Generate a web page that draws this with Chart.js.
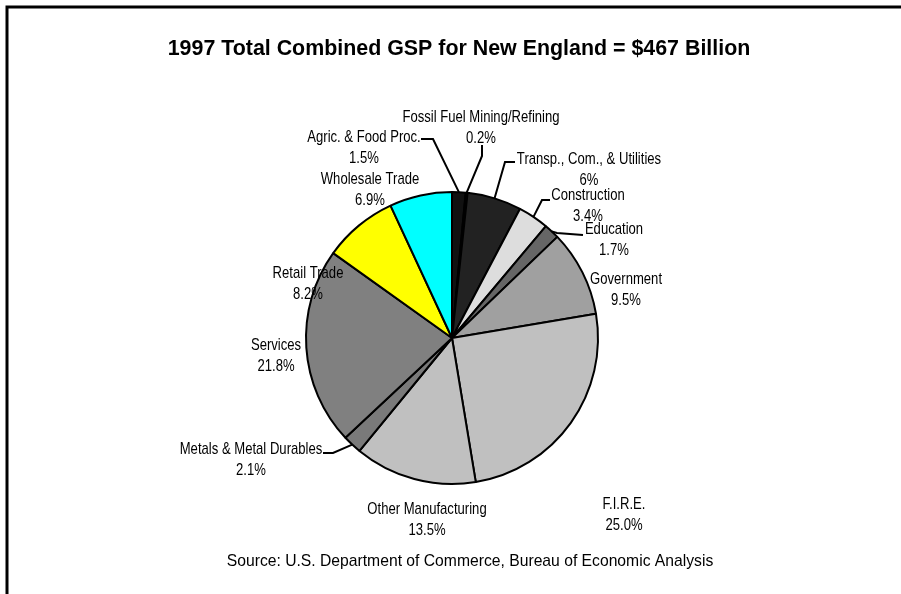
<!DOCTYPE html>
<html>
<head>
<meta charset="utf-8">
<script src="https://cdn.jsdelivr.net/npm/chart.js@4"></script>
<style>
html,body{margin:0;padding:0;background:#fff;}
#wrap{position:relative;width:901px;height:594px;}
</style>
</head>
<body>
<div id="wrap"><canvas id="c" width="901" height="594"></canvas></div>
<script>
const categories = [
  "Agric. & Food Proc.",
  "Fossil Fuel Mining/Refining",
  "Transp., Com., & Utilities",
  "Construction",
  "Education",
  "Government",
  "F.I.R.E.",
  "Other Manufacturing",
  "Metals & Metal Durables",
  "Services",
  "Retail Trade",
  "Wholesale Trade"
];
const shares = [1.5, 0.2, 6, 3.4, 1.7, 9.5, 25.0, 13.5, 2.1, 21.8, 8.2, 6.9];
const shareLabels = ["1.5%", "0.2%", "6%", "3.4%", "1.7%", "9.5%", "25.0%", "13.5%", "2.1%", "21.8%", "8.2%", "6.9%"];

const sliceColors = ["#111111", "#ffffff", "#222222", "#dddddd", "#666666", "#a0a0a0",
                     "#c0c0c0", "#c0c0c0", "#7a7a7a", "#808080", "#ffff00", "#00ffff"];

// label block centres, as offsets from pie centre (px); leader: start + elbow offsets, or null
const labelLayout = [
  {dx:-88, dy:-201, leader:{from:[-31,-199],elbow:[-19,-199]}},
  {dx: 29, dy:-221, leader:{from:[30,-193],elbow:[30,-182]}},
  {dx:137, dy:-179, leader:{from:[63,-176],elbow:[53,-176]}},
  {dx:136, dy:-143, leader:{from:[98,-138],elbow:[90,-138]}},
  {dx:162, dy:-109, leader:{from:[131,-103],elbow:[105,-105]}},
  {dx:174, dy: -59, leader:null},
  {dx:172, dy: 166, leader:null},
  {dx:-25, dy: 171, leader:null},
  {dx:-201,dy: 111, leader:{from:[-129,115],elbow:[-119,115]}},
  {dx:-176,dy:   7, leader:null},
  {dx:-144,dy: -65, leader:null},
  {dx: -82,dy:-159, leader:null}
];

const LABEL_FONT = "17px 'Liberation Sans', Arial, sans-serif";
const NARROW = 0.77;
const LINE_GAP = 21;

function narrowText(ctx, text, x, y) {
  ctx.save();
  ctx.translate(x, y);
  ctx.scale(NARROW, 1);
  ctx.fillText(text, 0, 0);
  ctx.restore();
}

const decor = {
  id: 'decor',
  afterDraw(chart) {
    const ctx = chart.ctx;
    const meta = chart.getDatasetMeta(0);
    const arc0 = meta.data[0];
    const cx = arc0.x, cy = arc0.y;
    const r = arc0.outerRadius;
    ctx.save();
    // frame (top and left edges)
    ctx.strokeStyle = '#000';
    ctx.lineWidth = 3;
    ctx.beginPath();
    ctx.moveTo(7, 594); ctx.lineTo(7, 7); ctx.lineTo(901, 7);
    ctx.stroke();
    // title & source
    ctx.fillStyle = '#000';
    ctx.textAlign = 'center';
    ctx.textBaseline = 'middle';
    ctx.font = "bold 21.4px 'Liberation Sans', Arial, sans-serif";
    ctx.fillText("1997 Total Combined GSP for New England = $467 Billion", 459, 49);
    ctx.font = "15.7px 'Liberation Sans', Arial, sans-serif";
    ctx.fillText("Source: U.S. Department of Commerce, Bureau of Economic Analysis", 470, 562);
    // labels
    ctx.font = LABEL_FONT;
    meta.data.forEach((arc, i) => {
      const L = labelLayout[i];
      const x = cx + L.dx, y = cy + L.dy;
      ctx.fillStyle = '#000';
      narrowText(ctx, categories[i], x, y);
      narrowText(ctx, shareLabels[i], x, y + LINE_GAP);
      if (L.leader) {
        const mid = (arc.startAngle + arc.endAngle) / 2;
        const ex = cx + Math.cos(mid) * r, ey = cy + Math.sin(mid) * r;
        ctx.strokeStyle = '#000';
        ctx.lineWidth = 2;
        ctx.beginPath();
        ctx.moveTo(cx + L.leader.from[0], cy + L.leader.from[1]);
        ctx.lineTo(cx + L.leader.elbow[0], cy + L.leader.elbow[1]);
        ctx.lineTo(ex, ey);
        ctx.stroke();
      }
    });
    ctx.restore();
  }
};

new Chart(document.getElementById('c'), {
  type: 'pie',
  data: {
    labels: categories,
    datasets: [{
      data: shares,
      backgroundColor: sliceColors,
      borderColor: '#000000',
      borderWidth: 2,
      borderAlign: 'center'
    }]
  },
  options: {
    responsive: false,
    animation: false,
    devicePixelRatio: 1,
    layout: { padding: { left: 305, right: 302, top: 191, bottom: 109 } },
    plugins: { legend: { display: false }, tooltip: { enabled: false }, title: { display: false } }
  },
  plugins: [decor]
});
</script>
</body>
</html>
